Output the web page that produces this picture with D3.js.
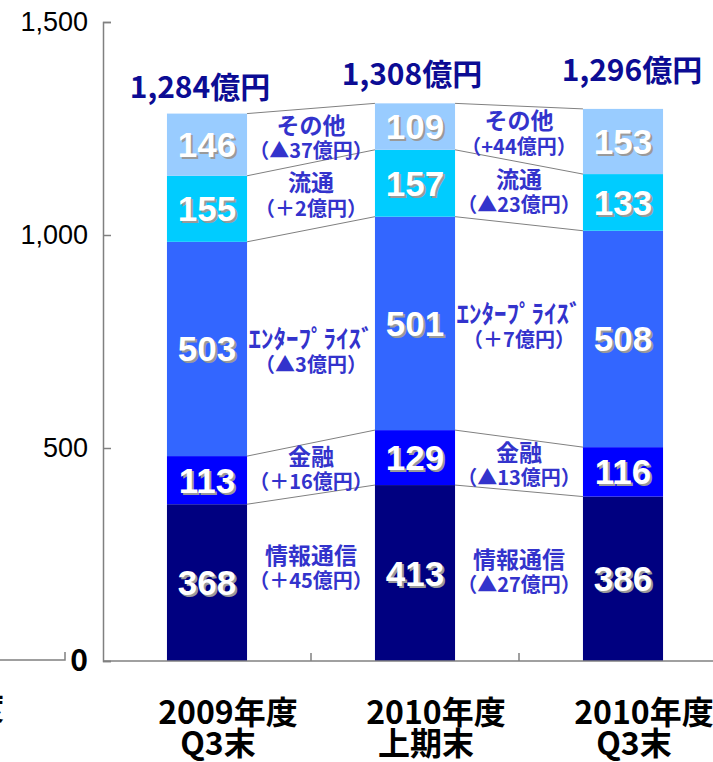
<!DOCTYPE html>
<html>
<head>
<meta charset="utf-8">
<script src="https://cdn.jsdelivr.net/npm/d3@7"></script>
<style>
  body { margin: 0; background: #fff; }
  svg { display: block; }
  .axis path, .axis line { stroke: #808080; stroke-width: 1.5; }
  .axis text { font-family: "Liberation Sans", Arial, sans-serif; fill: #000; }
</style>
</head>
<body>
<div id="chart"></div>
<script>
// periods (two-line tick labels)
const periodLine1 = ['2009年度', '2010年度', '2010年度'];
const periodLine2 = ['Q3末', '上期末', 'Q3末'];

// segments, bottom to top
const segments = ['情報通信', '金融', 'ｴﾝﾀｰﾌﾟﾗｲｽﾞ', '流通', 'その他'];
const infoComm = [368, 413, 386];
const finance = [113, 129, 116];
const enterprise = [503, 501, 508];
const distribution = [155, 157, 133];
const others = [146, 109, 153];

const totalLabels = ['1,284億円', '1,308億円', '1,296億円'];

// change notes between periods, per segment (bottom to top)
const changesFirst = ['（＋45億円）', '（＋16億円）', '（▲3億円）', '（＋2億円）', '（▲37億円）'];
const changesSecond = ['（▲27億円）', '（▲13億円）', '（＋7億円）', '（▲23億円）', '（+44億円）'];

const yTicks = [0, 500, 1000, 1500];

const colors = ['#000080', '#0000ff', '#3366ff', '#00ccff', '#99ccff'];

const width = 713, height = 762;
const series = [infoComm, finance, enterprise, distribution, others];

const table = periodLine1.map((p, i) => {
  const row = { idx: i };
  segments.forEach((s, k) => { row[s] = series[k][i]; });
  return row;
});
const stacked = d3.stack().keys(segments)(table);

const x = d3.scaleBand()
  .domain(table.map(d => d.idx))
  .range([103, 727])
  .paddingInner(0.615)
  .paddingOuter(0.3075);

const y = d3.scaleLinear()
  .domain([0, 1500])
  .range([661, 22]);

const svg = d3.select('#chart')
  .append('svg')
    .attr('width', width)
    .attr('height', height);

// cropped remnant of neighbouring chart on the left
svg.append('path')
  .attr('d', `M0,${y(0) - 1}H65V${y(0) - 9}`)
  .attr('fill', 'none')
  .attr('stroke', '#808080')
  .attr('stroke-width', 1.5);
svg.append('text')
  .attr('x', 4)
  .attr('y', 705)
  .attr('text-anchor', 'end')
  .attr('dominant-baseline', 'central')
  .style('font-family', '"Noto Sans CJK JP"')
  .style('font-weight', 'bold')
  .style('font-size', '31px')
  .text('度');

// bars
const layer = svg.selectAll('.layer')
    .data(stacked)
  .enter().append('g')
    .attr('class', 'layer')
    .attr('fill', (d, k) => colors[k]);

layer.selectAll('rect')
    .data(d => d)
  .enter().append('rect')
    .attr('x', d => x(d.data.idx))
    .attr('y', d => y(d[1]))
    .attr('width', x.bandwidth())
    .attr('height', d => y(d[0]) - y(d[1]));

// connectors between bars
const connectors = [];
for (let i = 0; i < table.length - 1; i++) {
  stacked.forEach(s => {
    connectors.push({ x1: x(i) + x.bandwidth(), y1: y(s[i][1]), x2: x(i + 1), y2: y(s[i + 1][1]) });
  });
}
svg.selectAll('.connector')
    .data(connectors)
  .enter().append('line')
    .attr('class', 'connector')
    .attr('x1', d => d.x1)
    .attr('y1', d => d.y1)
    .attr('x2', d => d.x2)
    .attr('y2', d => d.y2)
    .attr('stroke', '#808080')
    .attr('stroke-width', 1);

// segment value labels (white with gray shadow)
const valueFont = g => g
  .attr('text-anchor', 'middle')
  .attr('dominant-baseline', 'central')
  .style('font-family', '"Liberation Sans", Arial, sans-serif')
  .style('font-weight', 'bold')
  .style('font-size', '35px');

const cells = stacked.flatMap(s => s.map(d => ({ v: d.data[s.key], cx: x(d.data.idx) + x.bandwidth() / 2, cy: y((d[0] + d[1]) / 2) })));

svg.selectAll('.val-shadow')
    .data(cells)
  .enter().append('text')
    .attr('class', 'val-shadow')
    .attr('x', d => d.cx + 2)
    .attr('y', d => d.cy + 2)
    .attr('fill', '#9a9a9a')
    .call(valueFont)
    .text(d => d.v);

svg.selectAll('.val')
    .data(cells)
  .enter().append('text')
    .attr('class', 'val')
    .attr('x', d => d.cx)
    .attr('y', d => d.cy)
    .attr('fill', '#fff')
    .call(valueFont)
    .text(d => d.v);

// totals above bars
const totalLift = [29, 31, 41];
const totalShift = [-7, -3, 9];
svg.selectAll('.total')
    .data(table)
  .enter().append('text')
    .attr('class', 'total')
    .attr('x', d => x(d.idx) + x.bandwidth() / 2 + totalShift[d.idx])
    .attr('y', d => y(d3.sum(series, s => s[d.idx])) - totalLift[d.idx])
    .attr('text-anchor', 'middle')
    .attr('dominant-baseline', 'central')
    .attr('fill', '#0c0c94')
    .style('font-family', '"Noto Sans CJK JP"')
    .style('font-weight', 'bold')
    .style('font-size', '30px')
    .text(d => totalLabels[d.idx]);

// change annotations between bars
const noteNudge = [[-12, -2, 13, -3, 0], [-6, -2, -7, -3, -3]];
const notes = [];
[changesFirst, changesSecond].forEach((changes, i) => {
  stacked.forEach((s, k) => {
    const m1 = (s[i][0] + s[i][1]) / 2;
    const m2 = (s[i + 1][0] + s[i + 1][1]) / 2;
    notes.push({
      cx: (x(i) + x.bandwidth() + x(i + 1)) / 2,
      cy: y((m1 + m2) / 2) + noteNudge[i][k],
      name: segments[k],
      change: changes[k]
    });
  });
});

const note = svg.selectAll('.note')
    .data(notes)
  .enter().append('g')
    .attr('class', 'note')
    .attr('transform', d => `translate(${d.cx},${d.cy})`)
    .attr('fill', '#3333cc')
    .style('font-family', '"Noto Sans CJK JP"')
    .style('font-weight', 'bold')
    .attr('text-anchor', 'middle')
    .attr('dominant-baseline', 'central');

note.append('text')
  .attr('y', -12)
  .style('font-size', d => d.name.length > 5 ? '25px' : '23px')
  .text(d => d.name);

note.append('text')
  .attr('y', 14)
  .style('font-size', '20px')
  .text(d => d.change);

// y axis
const yAxis = d3.axisLeft(y)
  .tickValues(yTicks)
  .tickSizeInner(-8)
  .tickSizeOuter(-8)
  .tickPadding(15)
  .tickFormat(d3.format(','));

const gy = svg.append('g')
  .attr('class', 'axis axis-y')
  .attr('transform', 'translate(103,0)')
  .call(yAxis);
gy.selectAll('.tick text')
  .style('font-size', '27px');
gy.selectAll('.tick')
  .filter(d => d === 0)
  .select('text')
    .style('font-family', '"Noto Sans CJK JP"')
    .style('font-weight', 'bold')
    .style('font-size', '30px');

// x axis (line with ticks at band boundaries)
const gx = svg.append('g')
  .attr('class', 'axis axis-x');
gx.append('path')
  .attr('d', `M103,${y(0)}H${width}`)
  .attr('fill', 'none');
gx.selectAll('.xtick')
    .data(table.slice(1))
  .enter().append('line')
    .attr('class', 'xtick')
    .attr('x1', d => x(d.idx) - x.step() * x.paddingInner() / 2)
    .attr('x2', d => x(d.idx) - x.step() * x.paddingInner() / 2)
    .attr('y1', y(0))
    .attr('y2', y(0) - 8);

const xl = svg.selectAll('.xlabel')
    .data(table)
  .enter().append('text')
    .attr('class', 'xlabel')
    .attr('text-anchor', 'middle')
    .attr('fill', '#000')
    .style('font-family', '"Noto Sans CJK JP"')
    .style('font-weight', 'bold')
    .style('font-size', '32px');
xl.append('tspan')
  .attr('x', d => x(d.idx) + x.bandwidth() / 2 + 21)
  .attr('y', 724)
  .text(d => periodLine1[d.idx]);
xl.append('tspan')
  .attr('x', d => x(d.idx) + x.bandwidth() / 2 + 11)
  .attr('y', 755)
  .text(d => periodLine2[d.idx]);
</script>
</body>
</html>
